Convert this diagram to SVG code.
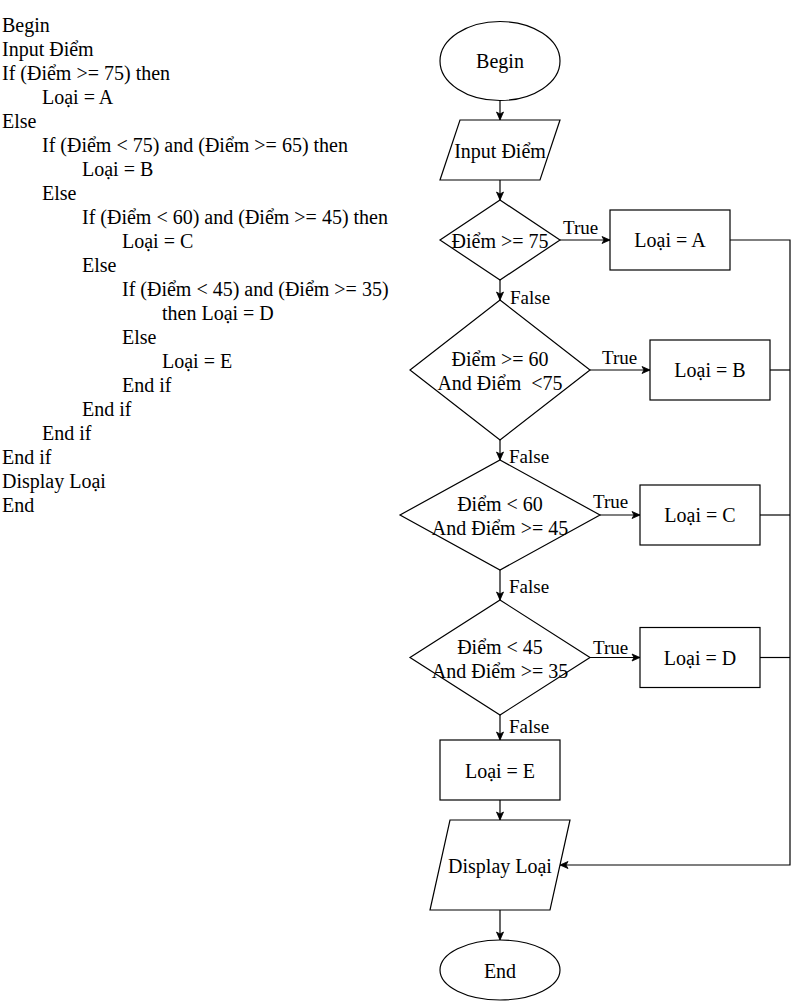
<svg xmlns="http://www.w3.org/2000/svg" width="799" height="1001" viewBox="0 0 799 1001">
<defs>
<style>
text{font-family:"Liberation Serif","Times New Roman",serif;font-size:20px;fill:#000}
.code text{font-size:20px}
.c{text-anchor:middle}
.lbl{font-size:19px}
.shape{fill:#fff;stroke:#000;stroke-width:1.2}
.edge{fill:none;stroke:#000;stroke-width:1.2}
.pre{white-space:pre}
</style>
<marker id="arr" markerUnits="userSpaceOnUse" markerWidth="10" markerHeight="10" viewBox="0 0 10 10" refX="9" refY="5" orient="auto">
<path d="M1,1.5 L9,5 L1,8.5 L3,5 Z" fill="#000" stroke="#000" stroke-width="0.8"/>
</marker>
</defs>
<rect width="799" height="1001" fill="#fff"/>

<g id="pseudocode" class="code">
<text x="2" y="31.5">Begin</text>
<text x="2" y="55.5">Input Điểm</text>
<text x="2" y="79.5">If (Điểm &gt;= 75) then</text>
<text x="42" y="103.5">Loại = A</text>
<text x="2" y="127.5">Else</text>
<text x="42" y="151.5">If (Điểm &lt; 75) and (Điểm &gt;= 65) then</text>
<text x="82" y="175.5">Loại = B</text>
<text x="42" y="199.5">Else</text>
<text x="82" y="223.5">If (Điểm &lt; 60) and (Điểm &gt;= 45) then</text>
<text x="122" y="247.5">Loại = C</text>
<text x="82" y="271.5">Else</text>
<text x="122" y="295.5">If (Điểm &lt; 45) and (Điểm &gt;= 35)</text>
<text x="162" y="319.5">then Loại = D</text>
<text x="122" y="343.5">Else</text>
<text x="162" y="367.5">Loại = E</text>
<text x="122" y="391.5">End if</text>
<text x="82" y="415.5">End if</text>
<text x="42" y="439.5">End if</text>
<text x="2" y="463.5">End if</text>
<text x="2" y="487.5">Display Loại</text>
<text x="2" y="511.5">End</text>
</g>

<g id="connectors">
<line class="edge" x1="500" y1="100" x2="500" y2="120" marker-end="url(#arr)"/>
<line class="edge" x1="500" y1="180" x2="500" y2="200" marker-end="url(#arr)"/>
<line class="edge" x1="560" y1="240" x2="610" y2="240" marker-end="url(#arr)"/>
<line class="edge" x1="500" y1="280" x2="500" y2="300" marker-end="url(#arr)"/>
<line class="edge" x1="590" y1="370" x2="650" y2="370" marker-end="url(#arr)"/>
<line class="edge" x1="500" y1="440" x2="500" y2="460" marker-end="url(#arr)"/>
<line class="edge" x1="600" y1="515" x2="640" y2="515" marker-end="url(#arr)"/>
<line class="edge" x1="500" y1="570" x2="500" y2="600" marker-end="url(#arr)"/>
<line class="edge" x1="590" y1="657.5" x2="640" y2="657.5" marker-end="url(#arr)"/>
<line class="edge" x1="500" y1="715" x2="500" y2="740" marker-end="url(#arr)"/>
<line class="edge" x1="500" y1="800" x2="500" y2="820" marker-end="url(#arr)"/>
<line class="edge" x1="500" y1="910" x2="500" y2="940" marker-end="url(#arr)"/>
<polyline class="edge" points="730,240 790,240 790,865 560,865" marker-end="url(#arr)"/>
<line class="edge" x1="770" y1="370" x2="790" y2="370"/>
<line class="edge" x1="760" y1="515" x2="790" y2="515"/>
<line class="edge" x1="760" y1="657.5" x2="790" y2="657.5"/>
<text class="lbl" x="563" y="234">True</text>
<text class="lbl" x="510" y="304">False</text>
<text class="lbl" x="602" y="364">True</text>
<text class="lbl" x="509" y="463">False</text>
<text class="lbl" x="593" y="508">True</text>
<text class="lbl" x="509" y="593">False</text>
<text class="lbl" x="593" y="654">True</text>
<text class="lbl" x="509" y="733">False</text>
</g>

<g id="begin">
<ellipse class="shape" cx="500" cy="61" rx="60" ry="39.5"/>
<text class="c" x="500" y="68">Begin</text>
</g>
<g id="input">
<polygon class="shape" points="460,120 560,120 540,180 440,180"/>
<text class="c" x="500" y="158">Input Điểm</text>
</g>
<g id="dec1">
<polygon class="shape" points="500,200 560,240 500,280 440,240"/>
<text class="c" x="500" y="248">Điểm &gt;= 75</text>
</g>
<g id="loaiA">
<rect class="shape" x="610" y="210" width="120" height="60"/>
<text class="c" x="670" y="247">Loại = A</text>
</g>
<g id="dec2">
<polygon class="shape" points="500,300 590,370 500,440 410,370"/>
<text class="c" x="500" y="366">Điểm &gt;= 60</text>
<text class="c pre" x="500" y="390" xml:space="preserve">And Điểm  &lt;75</text>
</g>
<g id="loaiB">
<rect class="shape" x="650" y="340" width="120" height="60"/>
<text class="c" x="710" y="377">Loại = B</text>
</g>
<g id="dec3">
<polygon class="shape" points="500,460 600,515 500,570 400,515"/>
<text class="c" x="500" y="511">Điểm &lt; 60</text>
<text class="c" x="500" y="535">And Điểm &gt;= 45</text>
</g>
<g id="loaiC">
<rect class="shape" x="640" y="485" width="120" height="60"/>
<text class="c" x="700" y="522">Loại = C</text>
</g>
<g id="dec4">
<polygon class="shape" points="500,600 590,657.5 500,715 410,657.5"/>
<text class="c" x="500" y="654">Điểm &lt; 45</text>
<text class="c" x="500" y="678">And Điểm &gt;= 35</text>
</g>
<g id="loaiD">
<rect class="shape" x="640" y="627.5" width="120" height="60"/>
<text class="c" x="700" y="665">Loại = D</text>
</g>
<g id="loaiE">
<rect class="shape" x="440" y="740" width="120" height="60"/>
<text class="c" x="500" y="778">Loại = E</text>
</g>
<g id="display">
<polygon class="shape" points="450,820 570,820 550,910 430,910"/>
<text class="c" x="500" y="873">Display Loại</text>
</g>
<g id="end">
<ellipse class="shape" cx="500" cy="970" rx="60" ry="30"/>
<text class="c" x="500" y="978">End</text>
</g>
</svg>
